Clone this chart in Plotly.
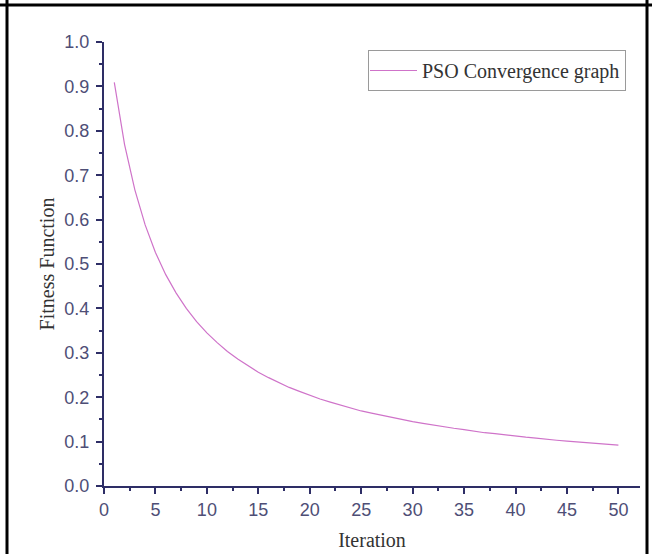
import plotly.graph_objects as go

iterations = list(range(1, 51))
fitness = [0.909, 0.769, 0.667, 0.588, 0.526, 0.476, 0.435, 0.400, 0.370, 0.345,
           0.323, 0.303, 0.286, 0.270, 0.256, 0.244, 0.233, 0.222, 0.213, 0.204,
           0.196, 0.189, 0.182, 0.175, 0.169, 0.164, 0.159, 0.154, 0.149, 0.145,
           0.141, 0.137, 0.133, 0.130, 0.127, 0.123, 0.120, 0.118, 0.115, 0.112,
           0.110, 0.108, 0.105, 0.103, 0.101, 0.099, 0.097, 0.095, 0.093, 0.092]
series_name = "PSO Convergence graph"
x_title = "Iteration"
y_title = "Fitness Function"

W, H = 652, 554
L, R, T, B = 104, 12, 42, 68
pw, ph = W - L - R, H - T - B

def px2paper_x(px):
    return (px - L) / pw

def px2paper_y(py):
    return (H - B - py) / ph

axis_col = "#2e2e66"
tick_font = dict(family="Liberation Sans, Arial", size=18, color="#4e4e76")
serif = "Liberation Serif, Times New Roman"
title_font = dict(family=serif, size=20, color="#333333")

fig = go.Figure()
fig.add_trace(go.Scatter(x=iterations, y=fitness, mode="lines", name=series_name,
                         line=dict(color="#cf73c9", width=1.2)))

fig.update_layout(
    width=W, height=H,
    margin=dict(l=L, r=R, t=T, b=B, autoexpand=False),
    paper_bgcolor="white", plot_bgcolor="white",
    showlegend=True,
    legend=dict(x=px2paper_x(368), y=px2paper_y(50), xanchor="left", yanchor="top",
                bordercolor="#9a9a9a", borderwidth=1, bgcolor="white",
                font=dict(family=serif, size=20, color="#333333"),
                itemwidth=47, tracegroupgap=0, indentation=-4),
    xaxis=dict(range=[0, 52.1], tickmode="linear", tick0=0, dtick=5,
               showline=True, linecolor=axis_col, linewidth=2, showgrid=False, zeroline=False,
               ticks="outside", ticklen=6, tickwidth=1.5, tickcolor=axis_col,
               minor=dict(dtick=2.5, ticks="outside", ticklen=3, tickwidth=1.5, tickcolor=axis_col, showgrid=False),
               tickfont=tick_font,
               title=dict(text=x_title, font=title_font, standoff=14)),
    yaxis=dict(range=[0, 1.0], tickmode="linear", tick0=0, dtick=0.1, tickformat=".1f",
               showline=True, linecolor=axis_col, linewidth=2, showgrid=False, zeroline=False,
               ticks="outside", ticklen=6, tickwidth=1.5, tickcolor=axis_col,
               minor=dict(dtick=0.05, ticks="outside", ticklen=3, tickwidth=1.5, tickcolor=axis_col, showgrid=False),
               tickfont=tick_font, ticklabelstandoff=3,
               title=dict(text=y_title, font=title_font, standoff=4)),
)

# black frame (table cell border) around the picture
frame = dict(color="black", width=3)
fig.add_shape(type="line", xref="paper", yref="paper",
              x0=px2paper_x(0), x1=px2paper_x(W), y0=px2paper_y(5), y1=px2paper_y(5), line=frame)
fig.add_shape(type="line", xref="paper", yref="paper",
              x0=px2paper_x(7), x1=px2paper_x(7), y0=px2paper_y(0), y1=px2paper_y(H + 5), line=frame)
fig.add_shape(type="line", xref="paper", yref="paper",
              x0=px2paper_x(647), x1=px2paper_x(647), y0=px2paper_y(0), y1=px2paper_y(H + 5), line=frame)

fig.write_html("out.html", config={"displayModeBar": False},
               post_script="document.body.style.margin='0';")
